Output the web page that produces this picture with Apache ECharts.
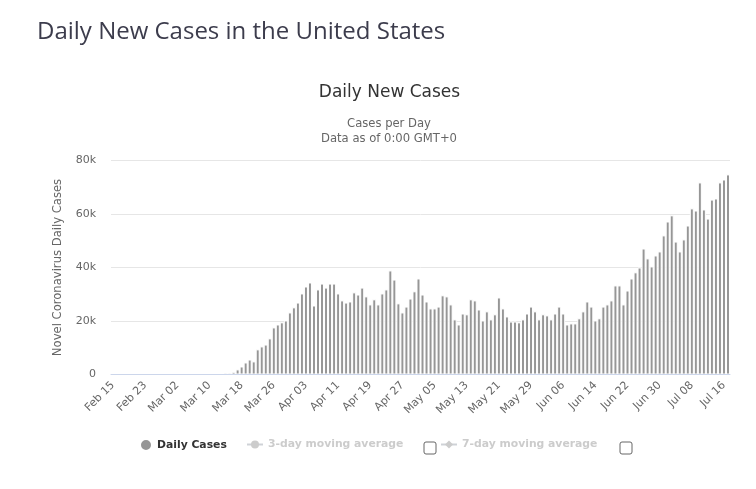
<!DOCTYPE html>
<html><head><meta charset="utf-8">
<style>html,body{margin:0;padding:0;background:#fff}#c{width:756px;height:489px}</style>
<script src="https://cdn.jsdelivr.net/npm/echarts@6/dist/echarts.min.js"></script>
</head><body><div id="c"></div>
<script>
const monthLengths = [['Feb',29],['Mar',31],['Apr',30],['May',31],['Jun',30],['Jul',31]];
const categories = [];
(function(){let mi=0,d=15;for(let n=0;n<154;n++){categories.push(monthLengths[mi][0]+' '+String(d).padStart(2,'0'));d++;if(d>monthLengths[mi][1]){d=1;mi++;}}})();
const earlyZeros = [0,0,0,0,0,0,0,0,0,0,0,0,0,0,0,0,0,0,0,0,0,0,0,0,0,0,0,0];
const marchApril = [650,650,1000,1900,3000,4500,5600,4900,9400,10500,11200,13500,17600,18700,19500,20200,23200,25100,26900,30300,32900,34400,25800,31800];
const aprilJune = [34000,32500,34000,34000,30300,27700,26900,27300,30700,29900,32500,29200,26200,28100,26200,30300,31800,38900,35500,26600,23200,25400,28400,31100,35900,29900,27300,24700,24700,25400,29600,29200,26200,20600,18700,22800,22500,28100,27700,24300,20200,23600,20600,22500,28800,24700,21700,19800,19800,19500,20600,22800,25400,23600,20600];
const juneJuly = [22500,22100,20600,22800,25400,22800,18700,19100,19100,21000,23600,27300,25400,20200,21000,25400,26200,27700,33300,33300,26200,31400,35900,38200,40000,47100,43400,40400,44500,46000,52000,57200,59500,49700,46000,50500,55700,62100,61300,71800,61700,58300,65400,65800,71800,72900,74800];
const dailyCases = earlyZeros.concat(marchApril, aprilJune, juneJuly);
const yTicks = {min:0,max:80000,interval:20000};
const pageTitle = 'Daily New Cases in the United States';
const chartTitle = 'Daily New Cases';
const chartSubtitle = 'Cases per Day\nData as of 0:00 GMT+0';
const yName = 'Novel Coronavirus Daily Cases';
const seriesNames = ['Daily Cases','3-day moving average','7-day moving average'];
const HEAD = '"Open Sans", sans-serif';
const FONT = '"DejaVu Sans", sans-serif';
const chart = echarts.init(document.getElementById('c'),null,{renderer:'canvas'});
function box(x,y){return {type:'rect',left:x,top:y,shape:{width:12,height:12,r:2},style:{fill:'#fff',stroke:'#666',lineWidth:1}};}
const legendText = {fontFamily:FONT,fontSize:10.8,fontWeight:'bold',padding:[3,0,0,0]};
chart.setOption({
 animation:false,backgroundColor:'#fff',
 title:[
  {text:pageTitle,left:37,top:20,padding:0,textStyle:{fontFamily:HEAD,fontSize:24,fontWeight:'normal',color:'#3c3c4c'}},
  {text:chartTitle,left:389.5,textAlign:'center',top:84,padding:0,textStyle:{fontFamily:FONT,fontSize:17,fontWeight:'normal',color:'#333'}},
  {text:chartSubtitle,left:389,textAlign:'center',top:116,padding:0,textStyle:{fontFamily:FONT,fontSize:11.6,fontWeight:'normal',color:'#666',lineHeight:15,align:'center'}}
 ],
 grid:{left:111,right:26,top:160.5,bottom:114.5,containLabel:false},
 xAxis:{type:'category',data:categories,z:3,
  axisLine:{lineStyle:{color:'#ccd6eb'}},axisTick:{show:false},
  axisLabel:{interval:7,rotate:45,color:'#666',fontSize:11,fontFamily:FONT,margin:9}},
 yAxis:{type:'value',min:yTicks.min,max:yTicks.max,interval:yTicks.interval,
  name:yName,nameLocation:'middle',nameGap:47,nameTextStyle:{color:'#666',fontSize:11.6,fontFamily:FONT},
  axisLine:{show:false},axisTick:{show:false},
  splitLine:{lineStyle:{color:'#e6e6e6'}},
  axisLabel:{color:'#666',fontSize:11,fontFamily:FONT,margin:15,padding:[2,0,0,0],formatter:v=>v===0?'0':(v/1000)+'k'}},
 legend:[
  {data:[seriesNames[0]],left:139,top:438,padding:0,itemWidth:12,itemHeight:12,itemGap:0,icon:'circle',textStyle:Object.assign({},legendText,{color:'#333',padding:[3,0,0,0]})},
  {data:[seriesNames[1]],left:246,top:439,padding:0,itemWidth:16,itemHeight:10,inactiveColor:'#ccc',inactiveBorderColor:'#ccc',selected:{[seriesNames[1]]:false},textStyle:legendText},
  {data:[seriesNames[2]],left:440,top:439,padding:0,itemWidth:16,itemHeight:10,inactiveColor:'#ccc',inactiveBorderColor:'#ccc',selected:{[seriesNames[2]]:false},textStyle:legendText}
 ],
 graphic:[box(423.5,441.5),box(619.5,441.5)],
 series:[
  {name:seriesNames[0],type:'bar',data:dailyCases,barWidth:4,itemStyle:{color:'#969696',borderColor:'#fff',borderWidth:1}},
  {name:seriesNames[1],type:'line',data:[],symbol:'circle',itemStyle:{color:'#ccc'},lineStyle:{color:'#ccc'}},
  {name:seriesNames[2],type:'line',data:[],symbol:'diamond',itemStyle:{color:'#ccc'},lineStyle:{color:'#ccc'}}
 ]
});
</script></body></html>
